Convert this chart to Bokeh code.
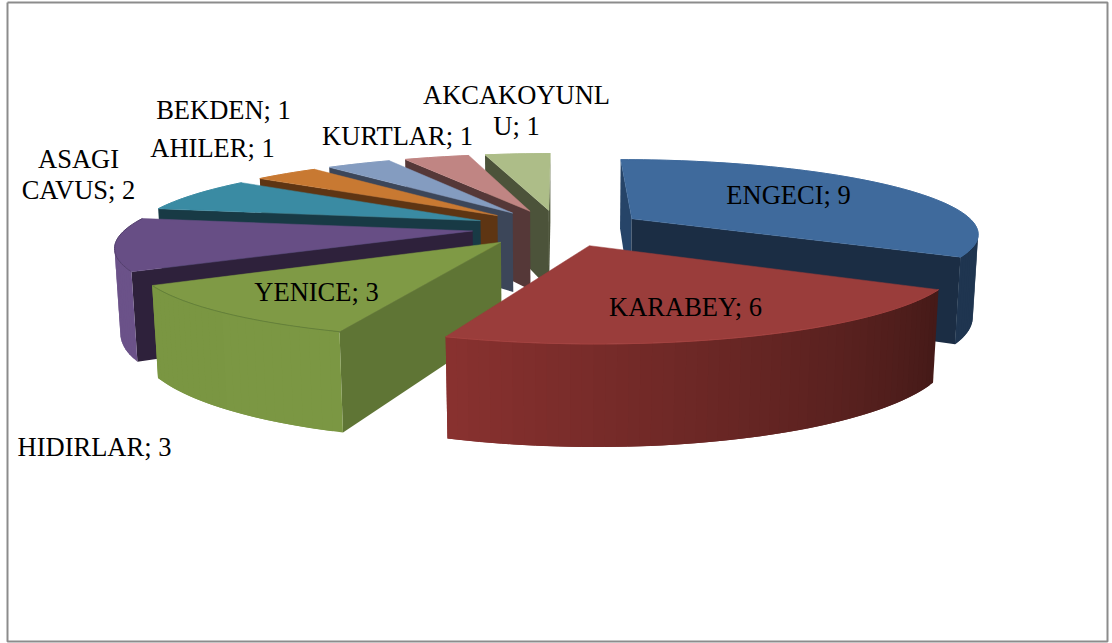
import numpy as np
from bokeh.plotting import figure
from bokeh.models import ColumnDataSource
from bokeh.core.properties import value
from bokeh.embed import file_html
from bokeh.resources import INLINE

# ---- data ----
categories = ["ENGECI", "KARABEY", "YENICE", "HIDIRLAR", "ASAGI CAVUS",
              "AHILER", "BEKDEN", "KURTLAR", "AKCAKOYUNLU"]
values = [9, 6, 3, 3, 2, 1, 1, 1, 1]

# ---- styles ----
top_colors = ["#3f6a9c", "#9a3d3b", "#7f9a45", "#674e85", "#3a8ba3",
              "#c87932", "#849cc0", "#c08583", "#adbd88"]
wall_colors_a0 = ["#264468", "#4a1c1a", "#5f7535", "#2e213b", "#183a45",
                  "#5e3513", "#3c4659", "#553838", "#4c533a"]
wall_colors_a1 = ["#1b2d44", "#4a1c1a", "#5f7535", "#2e213b", "#183a45",
                  "#5e3513", "#3c4659", "#553838", "#4c533a"]
outer_start = ["#1f3550", "#451a18", "#7b9743", "#6b5289", "#2c6b7e",
               "#96592a", "#66789a", "#8f6361", "#82906a"]
outer_end = ["#1f3550", "#88312f", "#7a9642", "#6b5289", "#2c6b7e",
             "#96592a", "#66789a", "#8f6361", "#82906a"]
arc_colors = ["#3f6a9c", "#a44240", "#64803a", "#54406e", "#3a8ba3",
              "#c87932", "#849cc0", "#c08583", "#adbd88"]
draw_order = [8, 7, 6, 5, 4, 3, 0, 2, 1]

label_lines = [["ENGECI; 9"], ["KARABEY; 6"], ["YENICE; 3"], ["HIDIRLAR; 3"],
               ["ASAGI", "CAVUS; 2"], ["AHILER; 1"], ["BEKDEN; 1"],
               ["KURTLAR; 1"], ["AKCAKOYUNL", "U; 1"]]
label_xc = [788, 685, 316, 94, 78, 212, 223, 397, 516]
label_yc = [194, 306, 291, 446, 158, 147, 109, 135, 94]
line_gap = 31

# ---- perspective model of the 3D pie ----
EXPLODE = 0.25
CX, YH = 558.0, -174.0
DEPTH, F = 5.5, 1903.0
K_TOP, K_BOT, S = 2207.0, 2690.0, 0.07


def project(X, Z, bottom=False):
    d = DEPTH - Z
    if bottom:
        d = d + S
        return CX + F * X / d, YH + K_BOT / d
    return CX + F * X / d, YH + K_TOP / d


def hex2rgb(h):
    return np.array([int(h[i:i + 2], 16) for i in (1, 3, 5)], dtype=float)


def mix(a, b, t):
    c = hex2rgb(a) * (1 - t) + hex2rgb(b) * t
    return "#%02x%02x%02x" % tuple(int(round(v)) for v in c)


def shoelace(xs, ys):
    m = len(xs)
    return sum(xs[i] * ys[(i + 1) % m] - xs[(i + 1) % m] * ys[i] for i in range(m))


p = figure(width=1112, height=643, x_range=(0, 1112), y_range=(643, 0),
           output_backend="svg", toolbar_location=None, min_border=0,
           background_fill_color="white", border_fill_color="white")
p.axis.visible = False
p.grid.visible = False
p.outline_line_color = None
p.styles = {"position": "absolute", "left": "0px", "top": "0px"}

# chart-area frame
p.line([7, 1107, 1107, 7, 7], [2, 2, 641, 641, 2], line_color="#8c8c8c", line_width=2)

fractions = np.array(values, dtype=float) / sum(values)
edges = np.concatenate([[0.0], np.cumsum(fractions) * 2 * np.pi])

for i in draw_order:
    a0, a1 = edges[i], edges[i + 1]
    mid = (a0 + a1) / 2
    ax, az = EXPLODE * np.sin(mid), -EXPLODE * np.cos(mid)
    n = max(2, int((a1 - a0) / np.radians(1.5)))
    th = np.linspace(a0, a1, n + 1)
    ring = [(ax + np.sin(t), az - np.cos(t)) for t in th]

    xs_all, ys_all, cols = [], [], []

    def quad(u, v):
        tu, tv = project(*u), project(*v)
        bv, bu = project(*v, bottom=True), project(*u, bottom=True)
        return [tu[0], tv[0], bv[0], bu[0]], [tu[1], tv[1], bv[1], bu[1]]

    # radial cut walls
    for (u, v, col) in [((ax, az), ring[0], wall_colors_a0[i]),
                        (ring[-1], (ax, az), wall_colors_a1[i])]:
        xs, ys = quad(u, v)
        if shoelace(xs, ys) < 0:
            xs_all.append(xs); ys_all.append(ys); cols.append(col)

    # rounded outer wall: each strip overlaps the next one so no seams appear
    for j in range(n):
        xs, ys = quad(ring[j], ring[j + 1])
        if shoelace(xs, ys) >= 0:
            continue
        nxt = ring[j + 2] if j + 2 <= n else ring[j + 1]
        xs2, ys2 = quad(ring[j], nxt)
        if j + 2 <= n and shoelace(*quad(ring[j + 1], ring[j + 2])) >= 0:
            xs2, ys2 = xs, ys
        xs_all.append(xs2); ys_all.append(ys2)
        cols.append(mix(outer_start[i], outer_end[i], j / max(1, n - 1)))

    if xs_all:
        p.patches(xs="xs", ys="ys", fill_color="c", line_color=None,
                  source=ColumnDataSource(dict(xs=[list(map(float, q)) for q in xs_all],
                                               ys=[list(map(float, q)) for q in ys_all],
                                               c=cols)))

    loop = [(ax, az)] + ring
    top = [project(*q) for q in loop]
    tx_, ty_ = [float(q[0]) for q in top], [float(q[1]) for q in top]
    p.patch(tx_, ty_, fill_color=top_colors[i], line_color=top_colors[i], line_width=0.5)
    p.line(tx_[1:], ty_[1:], line_color=arc_colors[i], line_width=1)

tx, ty, tt = [], [], []
for lines, xc, yc in zip(label_lines, label_xc, label_yc):
    for k, s in enumerate(lines):
        tx.append(xc)
        ty.append(yc + k * line_gap)
        tt.append(s)
p.text(tx, ty, text=tt, text_font=value("Liberation Serif"), text_font_size="26.5px",
       text_color="#000000", text_align="center", text_baseline="middle")

open("out.html", "w").write(file_html(p, INLINE))
